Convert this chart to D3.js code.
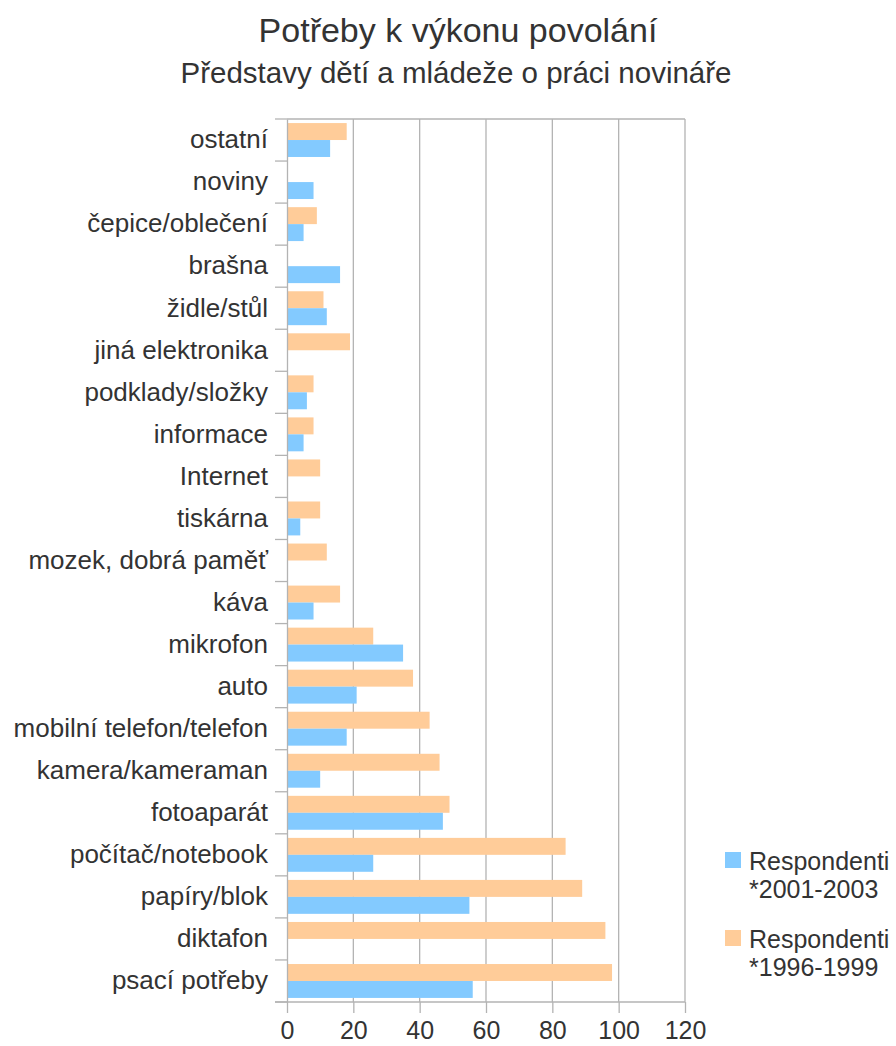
<!DOCTYPE html>
<html>
<head>
<meta charset="utf-8">
<script src="https://cdn.jsdelivr.net/npm/d3@7"></script>
<style>
  body { margin: 0; background: #fff; }
  svg { font-family: "Liberation Sans", Arial, sans-serif; }
</style>
</head>
<body>
<svg id="chart"></svg>
<script>
// categories, top to bottom as shown
const categories = [
    "ostatní", "noviny", "čepice/oblečení", "brašna", "židle/stůl",
    "jiná elektronika", "podklady/složky", "informace", "Internet", "tiskárna",
    "mozek, dobrá paměť", "káva", "mikrofon", "auto", "mobilní telefon/telefon",
    "kamera/kameraman", "fotoaparát", "počítač/notebook", "papíry/blok", "diktafon",
    "psací potřeby"
];
// Respondenti *1996-1999 (orange)
const resp1996 = [18, 0, 9, 0, 11, 19, 8, 8, 10, 10, 12, 16, 26, 38, 43, 46, 49, 84, 89, 96, 98];
// Respondenti *2001-2003 (blue)
const resp2001 = [13, 8, 5, 16, 12, 0, 6, 5, 0, 4, 0, 8, 35, 21, 18, 10, 47, 26, 55, 0, 56];
const xTicks = [0, 20, 40, 60, 80, 100, 120];

const seriesNames = ["1996", "2001"];
const seriesColor = {"1996": "#ffcc99", "2001": "#83caff"};
const GRID = '#b3b3b3';
const TEXT = '#333333';

const width = 896, height = 1046;
const margin = {top: 119, right: 211, bottom: 44, left: 287};

const svg = d3.select("#chart")
    .attr("width", width)
    .attr("height", height);

const x = d3.scaleLinear()
    .domain([0, 120])
    .range([margin.left, width - margin.right]);

const y = d3.scaleBand()
    .domain(categories)
    .range([margin.top, height - margin.bottom]);

const inner = d3.scaleBand()
    .domain(seriesNames)
    .range([0, y.bandwidth()])
    .paddingOuter(0.24);

// titles
svg.append("text")
    .attr("x", 458).attr("y", 42)
    .attr("text-anchor", "middle")
    .attr("font-size", 34)
    .attr("fill", TEXT)
    .text("Potřeby k výkonu povolání");
svg.append("text")
    .attr("x", 456).attr("y", 83)
    .attr("text-anchor", "middle")
    .attr("font-size", 29.5)
    .attr("fill", TEXT)
    .text("Představy dětí a mládeže o práci novináře");

// vertical grid lines
svg.append("g")
    .selectAll("line")
    .data(xTicks.slice(1))
    .join("line")
    .attr("x1", d => x(d)).attr("x2", d => x(d))
    .attr("y1", margin.top).attr("y2", height - margin.bottom)
    .attr("stroke", GRID)
    .attr("stroke-width", 1.3);

// top border
svg.append("line")
    .attr("x1", x(0)).attr("x2", x(120))
    .attr("y1", margin.top).attr("y2", margin.top)
    .attr("stroke", GRID).attr("stroke-width", 1.3);

// bars
const rows = categories.map((c, i) => ({cat: c, "1996": resp1996[i], "2001": resp2001[i]}));
const group = svg.append("g")
    .selectAll("g")
    .data(rows)
    .join("g")
    .attr("transform", d => `translate(0,${y(d.cat)})`);

group.selectAll("rect")
    .data(d => seriesNames.map(s => ({s, v: d[s]})))
    .join("rect")
    .attr("x", x(0))
    .attr("y", d => inner(d.s))
    .attr("width", d => x(d.v) - x(0))
    .attr("height", inner.bandwidth())
    .attr("fill", d => seriesColor[d.s]);

// left axis
const yAxis = svg.append("g")
    .attr("transform", `translate(${x(0)},0)`)
    .call(d3.axisLeft(y).tickSize(0).tickPadding(19));
yAxis.select(".domain").attr("stroke", GRID).attr("stroke-width", 1.3);
yAxis.selectAll("text")
    .attr("font-size", 26)
    .attr("font-family", "Liberation Sans, Arial, sans-serif")
    .attr("fill", TEXT);

// category boundary ticks
svg.append("g")
    .selectAll("line")
    .data(categories.map(c => y(c)).concat([y.range()[1]]))
    .join("line")
    .attr("x1", x(0) - 12).attr("x2", x(0))
    .attr("y1", d => d).attr("y2", d => d)
    .attr("stroke", GRID).attr("stroke-width", 1.3);

// bottom axis
const xAxis = svg.append("g")
    .attr("transform", `translate(0,${height - margin.bottom})`)
    .call(d3.axisBottom(x).tickValues(xTicks).tickSize(11).tickPadding(8));
xAxis.select(".domain").remove();
xAxis.append("line")
    .attr("x1", x(0) - 12).attr("x2", x(120))
    .attr("stroke", GRID).attr("stroke-width", 1.3);
xAxis.selectAll(".tick line").attr("stroke", GRID).attr("stroke-width", 1.3);
xAxis.selectAll("text")
    .attr("font-size", 25)
    .attr("font-family", "Liberation Sans, Arial, sans-serif")
    .attr("fill", TEXT);

// legend
const legendItems = [
    {s: "2001", lines: ["Respondenti", "*2001-2003"], top: 852},
    {s: "1996", lines: ["Respondenti", "*1996-1999"], top: 930}
];
const legend = svg.append("g")
    .selectAll("g")
    .data(legendItems)
    .join("g")
    .attr("transform", d => `translate(725,${d.top})`);
legend.append("rect")
    .attr("width", 16).attr("height", 16)
    .attr("fill", d => seriesColor[d.s]);
legend.append("text")
    .attr("font-size", 25)
    .attr("fill", TEXT)
    .selectAll("tspan")
    .data(d => d.lines)
    .join("tspan")
    .attr("x", 24)
    .attr("y", (d, i) => 18 + i * 28)
    .text(d => d);
</script>
</body>
</html>
